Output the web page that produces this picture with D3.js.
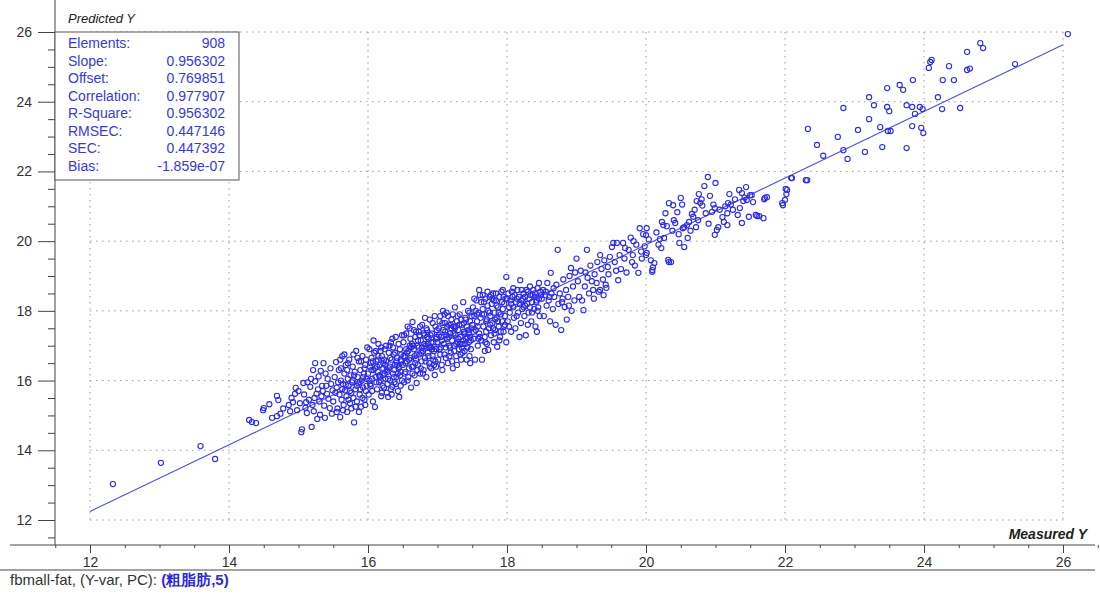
<!DOCTYPE html>
<html>
<head>
<meta charset="utf-8">
<script src="https://cdn.jsdelivr.net/npm/d3@7"></script>
<style>
  body { margin: 0; background: #fff; }
  svg text { font-family: Arial, "Liberation Sans", sans-serif; }
</style>
</head>
<body>
<div id="chart"></div>
<script>
// axis ticks
const xTicks = [12, 14, 16, 18, 20, 22, 24, 26];
const yTicks = [12, 14, 16, 18, 20, 22, 24, 26];

// regression stats shown in the box
const statLabels = ['Elements:', 'Slope:', 'Offset:', 'Correlation:', 'R-Square:', 'RMSEC:', 'SEC:', 'Bias:'];
const statValues = ['908', '0.956302', '0.769851', '0.977907', '0.956302', '0.447146', '0.447392', '-1.859e-07'];
const slope = 0.956302;
const offset = 0.769851;

// [measured, predicted]
const tailLow = [[12.33,13.03],[13.02,13.64],[13.59,14.12],[13.80,13.75],[14.29,14.87],[14.33,14.81],[14.39,14.78],[14.50,15.21],[14.49,15.15],[14.69,15.56],[14.71,15.44],[14.69,14.98],[14.74,15.05],[14.62,14.93],[14.58,15.32],[14.78,15.20]];

const band15 = [[14.86,15.30],[14.92,15.38],[14.96,15.79],[14.95,15.62],[15.04,14.52],[15.05,14.60],[15.07,15.93],[15.12,15.07],[15.10,15.22],[15.19,14.67],[15.21,16.30],[15.24,16.50],[15.24,15.98],[15.28,15.75],[15.36,16.50],[15.38,14.93],[15.30,15.40],[15.33,15.55],[15.45,15.21],[15.40,15.85],[15.42,16.05],[14.90,15.50],[14.98,15.15],[15.02,15.35],[15.08,15.60],[15.15,15.45],[15.17,15.82],[15.20,15.30],[15.22,15.12],[15.26,15.62],[15.29,16.12],[15.31,15.02],[15.35,15.70],[15.37,15.28],[15.39,16.20],[15.43,15.48],[15.47,15.90],[15.48,15.05],[15.46,16.35],[15.13,15.95],[15.00,15.70],[14.88,15.12],[15.18,16.05],[15.27,14.90],[15.34,15.85],[15.41,15.62],[15.49,15.72],[15.11,15.38],[15.23,15.50],[15.32,16.28],
  [15.50,15.40],[15.52,16.10],[15.54,16.53],[15.55,15.80],[15.56,15.20],[15.58,16.30],[15.59,15.60],[15.60,14.95],[15.61,16.00],[15.62,15.45],[15.63,16.70],[15.64,15.90],[15.65,15.30],[15.66,16.20],[15.67,15.72],[15.68,16.45],[15.69,15.55],[15.70,15.10],[15.71,16.05],[15.72,15.85],[15.73,16.60],[15.74,15.35],[15.75,16.15],[15.76,15.65],[15.77,15.95],[15.78,16.40],[15.79,15.50],[15.80,14.80],[15.81,16.25],[15.82,15.75],[15.83,16.85],[15.84,15.40],[15.85,16.10],[15.86,15.92],[15.87,16.55],[15.88,15.60],[15.89,16.30],[15.90,15.25],[15.91,16.00],[15.92,16.70],[15.93,15.80],[15.94,16.20],[15.95,15.45],[15.96,16.45],[15.97,15.70],[15.98,16.05],[15.99,16.95],[15.53,15.65],[15.57,15.95],[15.61,16.35],[15.64,15.15],[15.68,15.88],[15.71,16.50],[15.74,15.70],[15.78,16.00],[15.82,15.25],[15.85,16.65],[15.88,15.95],[15.92,15.50],[15.95,16.35],[15.98,15.85],[15.66,16.75],[15.72,15.45],[15.80,16.15],[15.87,15.10],[15.93,16.10],[15.55,15.10],[15.60,16.60],[15.70,16.30],[15.76,15.20],[15.84,15.85],[15.90,16.55],[15.96,15.30],[15.63,15.75],[15.79,16.75],[15.89,15.75],[15.97,16.60]];

const band16 = [[16.00,16.20],[16.01,15.60],[16.02,16.90],[16.03,16.40],[16.04,15.85],[16.05,16.65],[16.06,16.05],[16.07,15.40],[16.08,16.30],[16.09,16.80],[16.10,15.24],[16.11,16.10],[16.12,16.55],[16.13,15.75],[16.14,16.25],[16.15,17.05],[16.16,15.95],[16.17,16.45],[16.18,16.00],[16.19,15.55],[16.20,16.70],[16.21,16.15],[16.22,16.35],[16.23,15.80],[16.24,16.90],[16.25,16.05],[16.26,16.55],[16.27,15.65],[16.28,16.25],[16.29,15.53],[16.30,16.80],[16.31,16.40],[16.32,16.00],[16.33,17.10],[16.34,16.60],[16.35,15.82],[16.36,16.20],[16.37,16.75],[16.38,15.95],[16.39,16.45],[16.40,17.25],[16.41,16.10],[16.42,16.65],[16.43,15.70],[16.44,16.35],[16.45,15.53],[16.46,16.90],[16.47,16.25],[16.48,16.55],[16.49,16.00],[16.02,16.00],[16.04,16.50],[16.06,15.70],[16.08,17.15],[16.10,16.35],[16.12,15.95],[16.14,16.60],[16.16,16.15],[16.18,16.85],[16.20,15.65],[16.22,16.50],[16.24,16.20],[16.26,17.00],[16.28,15.90],[16.30,16.35],[16.32,16.65],[16.34,15.60],[16.36,16.95],[16.38,16.30],[16.40,15.90],[16.42,16.45],[16.44,17.05],[16.46,16.15],[16.48,16.75],[16.05,16.30],[16.11,16.85],[16.17,16.10],[16.23,16.60],[16.29,16.05],[16.35,17.20],[16.41,16.55],[16.47,15.85],[16.03,15.90],[16.13,16.40],[16.19,16.95],[16.27,16.30],[16.33,15.75],[16.39,16.80],[16.45,16.40],[16.49,17.30],[16.07,16.55],[16.21,15.85],[16.31,17.00],[16.43,16.20],[16.15,16.70],[16.25,16.45],[16.37,16.10],[16.47,16.60],
  [16.50,16.45],[16.51,17.10],[16.52,15.95],[16.53,16.70],[16.54,16.25],[16.55,17.35],[16.56,16.55],[16.57,16.00],[16.58,16.85],[16.59,16.35],[16.60,17.50],[16.61,16.65],[16.62,15.80],[16.63,17.05],[16.64,17.68],[16.65,16.40],[16.66,16.90],[16.67,16.15],[16.68,17.25],[16.69,16.60],[16.70,15.93],[16.71,17.00],[16.72,16.45],[16.73,17.40],[16.74,16.75],[16.75,16.20],[16.76,17.15],[16.77,16.55],[16.78,17.60],[16.79,16.85],[16.80,16.30],[16.81,17.30],[16.82,16.65],[16.83,17.00],[16.84,16.10],[16.85,17.45],[16.86,16.80],[16.87,17.20],[16.88,16.50],[16.89,17.75],[16.90,16.95],[16.91,16.35],[16.92,17.35],[16.93,16.70],[16.94,17.10],[16.95,16.45],[16.96,16.16],[16.97,17.55],[16.98,16.90],[16.99,17.25],[16.51,16.70],[16.53,16.20],[16.55,16.90],[16.57,17.55],[16.59,16.60],[16.61,17.20],[16.63,16.40],[16.65,17.00],[16.67,16.70],[16.69,17.40],[16.71,16.30],[16.73,16.95],[16.75,17.55],[16.77,16.80],[16.79,16.20],[16.81,17.05],[16.83,16.55],[16.85,17.25],[16.87,16.70],[16.89,16.40],[16.91,17.10],[16.93,17.65],[16.95,16.85],[16.97,16.55],[16.99,17.45],[16.52,17.30],[16.58,16.10],[16.62,16.95],[16.68,16.50],[16.74,17.30],[16.78,16.95],[16.84,17.50],[16.88,16.95],[16.94,16.60],[16.98,17.20],[16.56,16.80],[16.66,17.45],[16.76,16.35],[16.86,17.05],[16.96,17.85],[16.54,16.50],[16.64,16.20],[16.72,17.15],[16.82,17.80],[16.92,16.90],[16.60,17.00],[16.70,16.75],[16.80,17.35],[16.90,17.30],[16.98,16.40]];

const band17 = [[17.00,17.10],[17.01,16.60],[17.02,17.50],[17.03,16.90],[17.04,17.85],[17.05,17.25],[17.06,16.45],[17.07,17.65],[17.08,18.00],[17.09,17.05],[17.10,16.75],[17.11,17.40],[17.12,16.95],[17.13,17.95],[17.14,17.20],[17.15,16.50],[17.16,17.60],[17.17,17.00],[17.18,17.35],[17.19,16.80],[17.20,17.75],[17.21,17.15],[17.22,16.35],[17.23,17.55],[17.24,17.00],[17.25,18.10],[17.26,17.30],[17.27,16.70],[17.28,17.70],[17.29,17.10],[17.30,17.45],[17.31,16.90],[17.32,17.90],[17.33,17.25],[17.34,16.60],[17.35,17.60],[17.36,17.05],[17.37,18.25],[17.38,17.40],[17.39,16.85],[17.40,17.80],[17.41,17.20],[17.42,17.55],[17.43,16.95],[17.44,18.00],[17.45,17.35],[17.46,16.70],[17.47,17.70],[17.48,17.15],[17.49,17.50],[17.02,17.30],[17.04,16.75],[17.06,17.15],[17.08,17.45],[17.10,17.90],[17.12,16.65],[17.14,17.55],[17.16,17.25],[17.18,16.95],[17.20,17.50],[17.22,17.90],[17.24,16.85],[17.26,17.55],[17.28,16.45],[17.30,17.20],[17.32,17.05],[17.34,17.75],[17.36,16.80],[17.38,17.65],[17.40,17.05],[17.42,16.60],[17.44,17.45],[17.46,17.95],[17.48,16.90],[17.05,16.95],[17.11,17.65],[17.17,16.70],[17.23,17.35],[17.29,17.85],[17.35,16.95],[17.41,17.75],[17.47,17.25],[17.03,17.70],[17.13,17.30],[17.19,17.60],[17.27,17.05],[17.33,16.75],[17.39,17.35],[17.45,17.10],[17.49,17.85],[17.07,16.30],[17.21,16.55],[17.31,17.60],[17.43,17.25],[17.15,17.85],[17.25,17.50],[17.37,17.15],[17.47,16.50],
  [17.50,17.60],[17.51,18.10],[17.52,17.20],[17.53,17.85],[17.54,16.60],[17.55,17.45],[17.56,18.30],[17.57,17.70],[17.58,17.00],[17.59,17.95],[17.60,17.35],[17.61,18.45],[17.62,17.80],[17.63,17.15],[17.64,16.60],[17.65,18.05],[17.66,17.55],[17.67,17.90],[17.68,17.25],[17.69,18.35],[17.70,17.70],[17.71,17.05],[17.72,18.15],[17.73,16.88],[17.74,17.50],[17.75,18.40],[17.76,17.85],[17.77,17.30],[17.78,18.20],[17.79,17.65],[17.80,18.50],[17.81,17.10],[17.82,17.95],[17.83,17.45],[17.84,18.30],[17.85,17.80],[17.86,16.97],[17.87,18.10],[17.88,17.55],[17.89,18.40],[17.90,17.25],[17.91,17.90],[17.92,18.55],[17.93,17.70],[17.94,18.60],[17.95,17.40],[17.96,18.20],[17.97,17.85],[17.98,18.35],[17.99,18.97],[17.52,17.40],[17.55,18.00],[17.58,17.55],[17.61,17.25],[17.64,17.90],[17.67,18.25],[17.70,17.40],[17.73,18.00],[17.76,17.60],[17.79,18.35],[17.82,17.35],[17.85,18.15],[17.88,17.95],[17.91,17.40],[17.94,18.05],[17.97,17.60],[17.53,18.35],[17.59,17.20],[17.65,18.45],[17.71,17.75],[17.77,18.45],[17.83,17.75],[17.89,17.15],[17.95,18.40],[17.57,17.90],[17.63,18.25],[17.69,17.10],[17.75,17.95],[17.81,18.30],[17.87,17.70],[17.93,18.25],[17.99,17.10],[17.60,18.60],[17.72,18.55],[17.84,18.50],[17.96,17.55],[17.68,16.85],[17.80,17.50]];

const band18 = [[18.00,18.35],[18.01,17.70],[18.02,18.50],[18.04,17.95],[18.05,18.30],[18.06,17.40],[18.07,18.55],[18.09,18.10],[18.10,17.80],[18.11,18.45],[18.12,17.50],[18.13,18.25],[18.15,18.60],[18.16,17.95],[18.17,18.40],[18.19,18.88],[18.20,17.65],[18.21,18.30],[18.22,18.05],[18.24,18.50],[18.25,17.85],[18.26,18.40],[18.27,17.30],[18.29,18.20],[18.30,18.55],[18.31,17.95],[18.32,18.35],[18.34,18.45],[18.35,17.70],[18.36,18.25],[18.38,18.60],[18.39,18.05],[18.40,18.40],[18.41,17.55],[18.43,18.30],[18.44,18.65],[18.45,18.10],[18.46,18.80],[18.47,17.85],[18.49,18.45],[18.03,18.10],[18.08,18.40],[18.14,17.85],[18.18,18.20],[18.23,18.35],[18.28,18.60],[18.33,18.10],[18.37,18.45],[18.42,18.25],[18.48,18.55],[18.03,17.55],[18.14,18.35],[18.26,18.15],[18.36,17.95],[18.46,18.35],[18.09,18.65],[18.21,18.60],[18.33,18.70],[18.43,17.40],[18.18,17.25],[18.30,17.60],[18.40,18.50],[18.06,18.20],[18.24,18.10],[18.44,18.00],
  [18.50,18.35],[18.52,18.60],[18.53,17.85],[18.55,18.45],[18.57,18.15],[18.58,18.80],[18.60,18.30],[18.62,17.70],[18.63,19.09],[18.64,18.50],[18.66,18.05],[18.68,18.40],[18.70,17.60],[18.71,18.75],[18.73,19.75],[18.74,18.20],[18.76,18.50],[18.78,17.45],[18.80,18.35],[18.81,18.90],[18.83,18.11],[18.85,18.60],[18.86,17.75],[18.88,18.40],[18.90,19.00],[18.92,19.23],[18.93,18.00],[18.95,18.70],[18.97,18.30],[18.98,19.10],[18.56,18.55],[18.67,18.65],[18.79,18.25],[18.89,18.15],[18.61,18.40]];

const band19to22 = [[19.00,19.50],[19.02,18.85],[19.04,18.40],[19.06,19.15],[19.08,18.30],[19.10,18.02],[19.12,18.70],[19.15,19.75],[19.16,18.95],[19.18,18.50],[19.20,19.30],[19.22,18.85],[19.24,18.60],[19.26,19.05],[19.29,18.80],[19.30,19.40],[19.32,18.55],[19.34,18.60],[19.34,19.60],[19.36,19.20],[19.38,18.90],[19.40,19.45],[19.42,18.75],[19.43,18.66],[19.45,19.26],[19.46,19.05],[19.48,19.55],[19.25,18.35],[19.13,19.10],[19.39,18.45],
  [19.51,19.83],[19.53,19.95],[19.55,19.40],[19.58,19.95],[19.60,18.88],[19.62,19.60],[19.64,19.20],[19.67,19.95],[19.69,19.50],[19.72,19.10],[19.75,19.75],[19.78,20.10],[19.80,19.40],[19.81,19.60],[19.84,19.30],[19.86,19.90],[19.89,19.09],[19.91,20.37],[19.93,19.70],[19.96,20.20],[19.98,19.85],[19.57,19.15],[19.70,19.80],[19.82,20.00],[19.94,19.50],
  [20.00,20.17],[20.01,19.66],[20.01,20.37],[20.00,19.60],[20.04,20.05],[20.07,19.45],[20.09,19.12],[20.09,19.17],[20.10,19.25],[20.12,19.37],[20.15,20.25],[20.18,19.90],[20.20,20.06],[20.23,20.55],[20.25,20.46],[20.26,20.09],[20.30,20.43],[20.32,19.46],[20.33,19.40],[20.33,21.09],[20.36,19.40],[20.38,20.30],[20.39,21.03],[20.42,20.52],[20.45,20.83],[20.47,20.20],[20.48,19.95],[20.22,19.80],[20.28,20.80],[20.40,20.60],
  [20.50,21.24],[20.52,21.05],[20.53,20.37],[20.55,20.40],[20.55,19.83],[20.59,20.46],[20.60,20.09],[20.62,20.55],[20.66,20.78],[20.68,20.70],[20.70,20.90],[20.73,21.15],[20.75,20.60],[20.78,21.10],[20.80,21.20],[20.81,21.02],[20.84,21.58],[20.86,20.80],[20.89,21.84],[20.90,20.50],[20.95,20.84],[20.97,21.05],[20.99,20.95],[20.99,20.18],[20.64,20.30],[20.72,20.40],[20.92,21.30],[20.76,21.35],
  [21.00,21.67],[21.02,20.32],[21.04,20.40],[21.06,20.90],[21.10,20.69],[21.12,20.55],[21.14,21.00],[21.17,20.80],[21.17,20.46],[21.18,21.09],[21.22,21.05],[21.25,20.90],[21.28,21.20],[21.32,20.75],[21.34,21.47],[21.35,20.95],[21.38,21.38],[21.38,20.52],[21.40,21.15],[21.42,21.25],[21.44,21.55],[21.45,21.18],[21.48,20.70],[21.50,21.32],[21.20,21.35],
  [21.52,21.32],[21.54,21.12],[21.58,20.75],[21.60,20.72],[21.63,20.72],[21.69,20.66],[21.70,21.20],[21.71,21.24],[21.74,21.26],[21.96,21.09],[21.97,21.03],[22.00,21.18],[22.01,21.50],[22.02,21.35],[22.03,21.47],[22.09,21.81],[22.10,21.81],[22.30,21.75],[22.32,21.75]];

const tailHigh = [[22.33,23.22],[22.46,22.76],[22.55,22.45],[22.76,22.99],[22.84,22.61],[22.84,23.82],[22.90,22.36],[23.05,23.19],[23.15,22.56],[23.21,24.13],[23.21,23.50],[23.28,23.90],[23.37,23.27],[23.40,22.70],[23.47,24.39],[23.47,23.85],[23.48,23.16],[23.50,23.73],[23.52,23.16],[23.65,24.48],[23.70,24.34],[23.75,23.90],[23.75,22.67],[23.83,23.85],[23.83,23.30],[23.84,24.62],[23.87,23.65],[23.94,23.85],[23.96,23.25],[23.98,23.79],[23.99,23.10],[24.07,24.97],[24.09,25.14],[24.11,25.20],[24.20,24.13],[24.26,23.79],[24.27,24.62],[24.36,25.02],[24.43,24.62],[24.52,23.82],[24.62,25.43],[24.62,24.91],[24.66,24.95],[24.81,25.68],[24.85,25.54],[25.31,25.08],[26.07,25.94]];

const points = [].concat(tailLow, band15, band16, band17, band18, band19to22, tailHigh);

const W = 1100, H = 595;
const blue = '#3a3ad6';
const grey = '#444';

const svg = d3.select('#chart').append('svg')
  .attr('width', W)
  .attr('height', H);

const x = d3.scaleLinear().domain([12, 26]).range([90, 1063]);
const y = d3.scaleLinear().domain([12, 26]).range([520, 32]);

const axisX = 55;   // y axis position
const axisY = 545;  // x axis position

// grid (dotted)
const grid = svg.append('g').attr('stroke', '#9a9a9a').attr('stroke-dasharray', '1.5,4.5');
grid.selectAll('.gx').data(xTicks).enter().append('line')
  .attr('x1', d => x(d)).attr('x2', d => x(d))
  .attr('y1', y(26)).attr('y2', y(12));
grid.selectAll('.gy').data(yTicks).enter().append('line')
  .attr('x1', x(12)).attr('x2', x(26))
  .attr('y1', d => y(d)).attr('y2', d => y(d));

// minor ticks every 0.5
const minor = d3.range(11.5, 26.01, 0.5).filter(v => v % 2 !== 0);

// Y axis
const yAxisG = svg.append('g').attr('transform', `translate(${axisX},0)`);
yAxisG.call(d3.axisLeft(y).tickValues(yTicks).tickSize(17).tickPadding(6).tickFormat(d3.format('d')));
yAxisG.append('g').call(d3.axisLeft(y).tickValues(minor.filter(v => v <= 26)).tickSize(7).tickFormat(''));
yAxisG.selectAll('.domain').remove();
yAxisG.selectAll('line').attr('stroke', grey);
yAxisG.selectAll('text').attr('fill', '#333').style('font-size', '14px');
svg.append('line').attr('x1', axisX).attr('x2', axisX).attr('y1', 0).attr('y2', axisY).attr('stroke', grey);

// X axis
const xAxisG = svg.append('g').attr('transform', `translate(0,${axisY})`);
xAxisG.call(d3.axisBottom(x).tickValues(xTicks).tickSize(8).tickPadding(4).tickFormat(d3.format('d')));
xAxisG.append('g').call(d3.axisBottom(x).tickValues(minor.concat([26.5])).tickSize(3).tickFormat(''));
xAxisG.selectAll('.domain').remove();
xAxisG.selectAll('line').attr('stroke', grey);
xAxisG.selectAll('text').attr('fill', '#333').style('font-size', '14px');
svg.append('line').attr('x1', 10).attr('x2', 1095).attr('y1', axisY).attr('y2', axisY).attr('stroke', grey);

// bottom separator
svg.append('line').attr('x1', 0).attr('x2', 1095).attr('y1', 570).attr('y2', 570).attr('stroke', grey);

// regression line
svg.append('line')
  .attr('x1', x(12)).attr('y1', y(slope * 12 + offset))
  .attr('x2', x(26)).attr('y2', y(slope * 26 + offset))
  .attr('stroke', '#5050dc')
  .attr('stroke-width', 1.1);

// points
svg.append('g')
  .selectAll('circle')
  .data(points)
  .enter().append('circle')
  .attr('cx', d => x(d[0]))
  .attr('cy', d => y(d[1]))
  .attr('r', 2.6)
  .attr('fill', 'none')
  .attr('stroke', '#2c2ce6')
  .attr('stroke-width', 1.1);

// stats box
const box = svg.append('g');
box.append('rect')
  .attr('x', axisX).attr('y', y(26))
  .attr('width', 184).attr('height', 148)
  .attr('fill', '#fff')
  .attr('stroke', '#555');
box.selectAll('.sl').data(statLabels).enter().append('text')
  .attr('x', 68).attr('y', (d, i) => 48 + i * 17.5)
  .attr('fill', blue).style('font-size', '14px')
  .text(d => d);
box.selectAll('.sv').data(statValues).enter().append('text')
  .attr('x', 225).attr('y', (d, i) => 48 + i * 17.5)
  .attr('text-anchor', 'end')
  .attr('fill', blue).style('font-size', '14px')
  .text(d => d);

// axis titles
svg.append('text').attr('x', 68).attr('y', 23)
  .style('font-size', '13px').style('font-style', 'italic').attr('fill', '#222')
  .text('Predicted Y');
svg.append('text').attr('x', 1087).attr('y', 539).attr('text-anchor', 'end')
  .style('font-size', '14px').style('font-style', 'italic').style('font-weight', 'bold').attr('fill', '#222')
  .text('Measured Y');

// footer
const foot = svg.append('text').attr('x', 10).attr('y', 585).style('font-size', '15px');
foot.append('tspan').attr('fill', '#333').text('fbmall-fat, (Y-var, PC): ');
foot.append('tspan').attr('fill', '#2a2ad0').style('font-weight', 'bold').text('(粗脂肪,5)');
</script>
</body>
</html>
